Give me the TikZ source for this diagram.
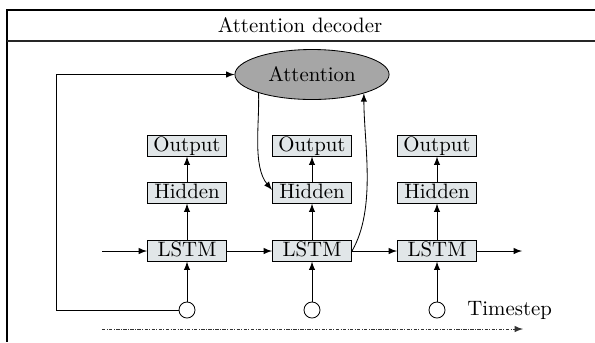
\documentclass[tikz,border=0pt]{standalone}
\usepackage{amssymb,amsmath}
\usetikzlibrary{positioning,shapes.geometric}

\definecolor{boxfill}{RGB}{225,230,232}
\definecolor{attfill}{RGB}{166,166,166}

\begin{document}
\begin{tikzpicture}[->,>=latex,x=0.48pt,y=-0.48pt,
      cell/.style={rectangle,draw,fill=boxfill,minimum width=38pt,inner xsep=1pt,
        inner ysep=0.5pt,text height=6.9pt,text depth=1.9pt},
      step node/.style={circle,draw,fill=white,minimum size=7.7pt,inner sep=0pt}]
 \useasboundingbox (0,0) rectangle (595,342);

 % frame and title row
 \draw[-,line width=1pt] (595,10) -- (7,10) -- (7,342);
 \draw[-,line width=0.9pt,black!85] (7,41) -- (595,41);
 \node[-] (title) at (300,25) {Attention decoder};

 \node[ellipse,draw,fill=attfill,minimum width=74pt,minimum height=24pt,inner sep=0pt] (att) at (312,74.5) {Attention};

 \node[cell] (l1) at (187,251) {LSTM};
 \node[cell] (h1) at (187,193) {Hidden};
 \node[cell] (o1) at (187,146) {Output};
 \node[step node] (s1) at (187,310) {};

 \node[cell] (l2) at (312,251) {LSTM};
 \node[cell] (h2) at (312,193) {Hidden};
 \node[cell] (o2) at (312,146) {Output};
 \node[step node] (s2) at (312,310) {};

 \node[cell] (l3) at (437,251) {LSTM};
 \node[cell] (h3) at (437,193) {Hidden};
 \node[cell] (o3) at (437,146) {Output};
 \node[step node] (s3) at (437,310) {};

 \node[anchor=west] (ts) at (460,310) {Timestep};

 \coordinate (in) at (102,251);
 \coordinate (out) at (522,251);
 \coordinate (fb) at (56,74.5);
 \coordinate (t0) at (102,329);
 \coordinate (t1) at (523,329);

 \path
 (s1) edge (l1)
 (l1) edge (h1)
 (h1) edge (o1)
 (s2) edge (l2)
 (l2) edge (h2)
 (h2) edge (o2)
 (s3) edge (l3)
 (l3) edge (h3)
 (h3) edge (o3)
 (in) edge (l1)
 (l1) edge (l2)
 (l2) edge (l3)
 (l3) edge (out)
 ;

 % feedback to attention
 \draw (s1.west) -| (fb) -- (att.west);
 \draw (att.-161) to[out=-88,in=130,looseness=0.8] ([yshift=1.5pt]h2.west);
 \draw (l2.east) to[out=60,in=-90,looseness=0.8] (att.-20);

 \draw[dash pattern=on 1.6pt off 0.7pt on 0.4pt off 0.7pt,black!80] (t0) -- (t1);
\end{tikzpicture}
\end{document}
